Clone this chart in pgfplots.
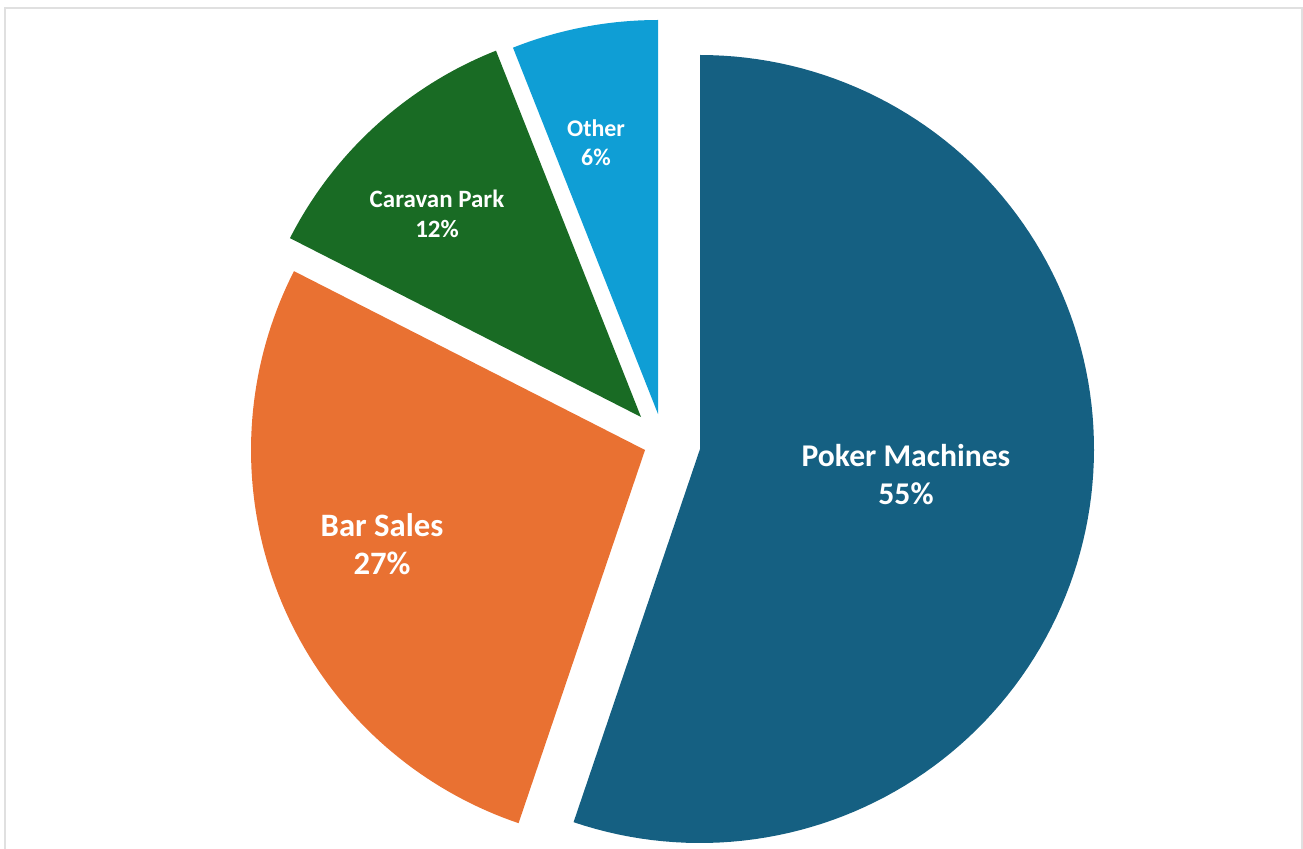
\documentclass[border=0pt]{standalone}
\usepackage{pgfplots}
\usepackage{pgfplotstable}
\pgfplotsset{compat=1.18}
\usepackage{fontspec}
\setmainfont{Carlito}
\definecolor{cPoker}{HTML}{156082}
\definecolor{cBar}{HTML}{E97132}
\definecolor{cCaravan}{HTML}{196B24}
\definecolor{cOther}{HTML}{0F9ED5}

% slice values (percent) and centre of each exploded slice (pixel layout, y up)
\pgfplotstableread{
label   value cx  cy
Poker   55.2  700 399
Bar     27.3  645 398
Caravan 11.5  641 431
Other   6.0   658 434
}\piedata

\begin{document}
\begin{tikzpicture}
% compute start/end angles from the values
\def\R{394}
\pgfmathsetmacro{\cum}{0}
\foreach \i/\nm in {0/A,1/B,2/C,3/D}{
  \pgfplotstablegetelem{\i}{value}\of\piedata \let\v\pgfplotsretval
  \pgfplotstablegetelem{\i}{cx}\of\piedata \let\x\pgfplotsretval
  \pgfplotstablegetelem{\i}{cy}\of\piedata \let\y\pgfplotsretval
  \pgfmathsetmacro{\s}{90-3.6*\cum}
  \pgfmathsetmacro{\e}{90-3.6*(\cum+\v)}
  \expandafter\xdef\csname st\nm\endcsname{\s}
  \expandafter\xdef\csname en\nm\endcsname{\e}
  \expandafter\xdef\csname cx\nm\endcsname{\x}
  \expandafter\xdef\csname cy\nm\endcsname{\y}
  \pgfmathsetmacro{\newcum}{\cum+\v}
  \global\let\cum\newcum
}
\begin{axis}[
  hide axis, scale only axis,
  width=13.03cm, height=8.48cm,
  xmin=0, xmax=1303, ymin=0, ymax=848,
]
\addplot[fill=cPoker, draw=none, domain=\stA:\enA, samples=120, variable=\t]
  ({\cxA+\R*cos(\t)},{\cyA+\R*sin(\t)}) -- (axis cs:\cxA,\cyA) -- cycle;
\addplot[fill=cBar, draw=none, domain=\stB:\enB, samples=80, variable=\t]
  ({\cxB+\R*cos(\t)},{\cyB+\R*sin(\t)}) -- (axis cs:\cxB,\cyB) -- cycle;
\addplot[fill=cCaravan, draw=none, domain=\stC:\enC, samples=40, variable=\t]
  ({\cxC+\R*cos(\t)},{\cyC+\R*sin(\t)}) -- (axis cs:\cxC,\cyC) -- cycle;
\addplot[fill=cOther, draw=none, domain=\stD:\enD, samples=30, variable=\t]
  ({\cxD+\R*cos(\t)},{\cyD+\R*sin(\t)}) -- (axis cs:\cxD,\cyD) -- cycle;

\draw[black!12, line width=0.5pt] (axis cs:5,-10) -- (axis cs:5,840) -- (axis cs:1302,840) -- (axis cs:1302,-10);

\node[text=white, align=center, font=\fontsize{9.0}{10.8}\selectfont\bfseries] at (axis cs:906,373) {Poker Machines\\55\%};
\node[text=white, align=center, font=\fontsize{9.3}{10.8}\selectfont\bfseries] at (axis cs:382,304) {Bar Sales\\27\%};
\node[text=white, align=center, font=\fontsize{7.1}{8.5}\selectfont\bfseries] at (axis cs:437,634) {Caravan Park\\12\%};
\node[text=white, align=center, font=\fontsize{6.8}{8.3}\selectfont\bfseries] at (axis cs:596,705) {Other\\6\%};
\end{axis}
\pgfresetboundingbox
\useasboundingbox (0,0) rectangle (13.03cm,8.48cm);
\end{tikzpicture}
\end{document}
